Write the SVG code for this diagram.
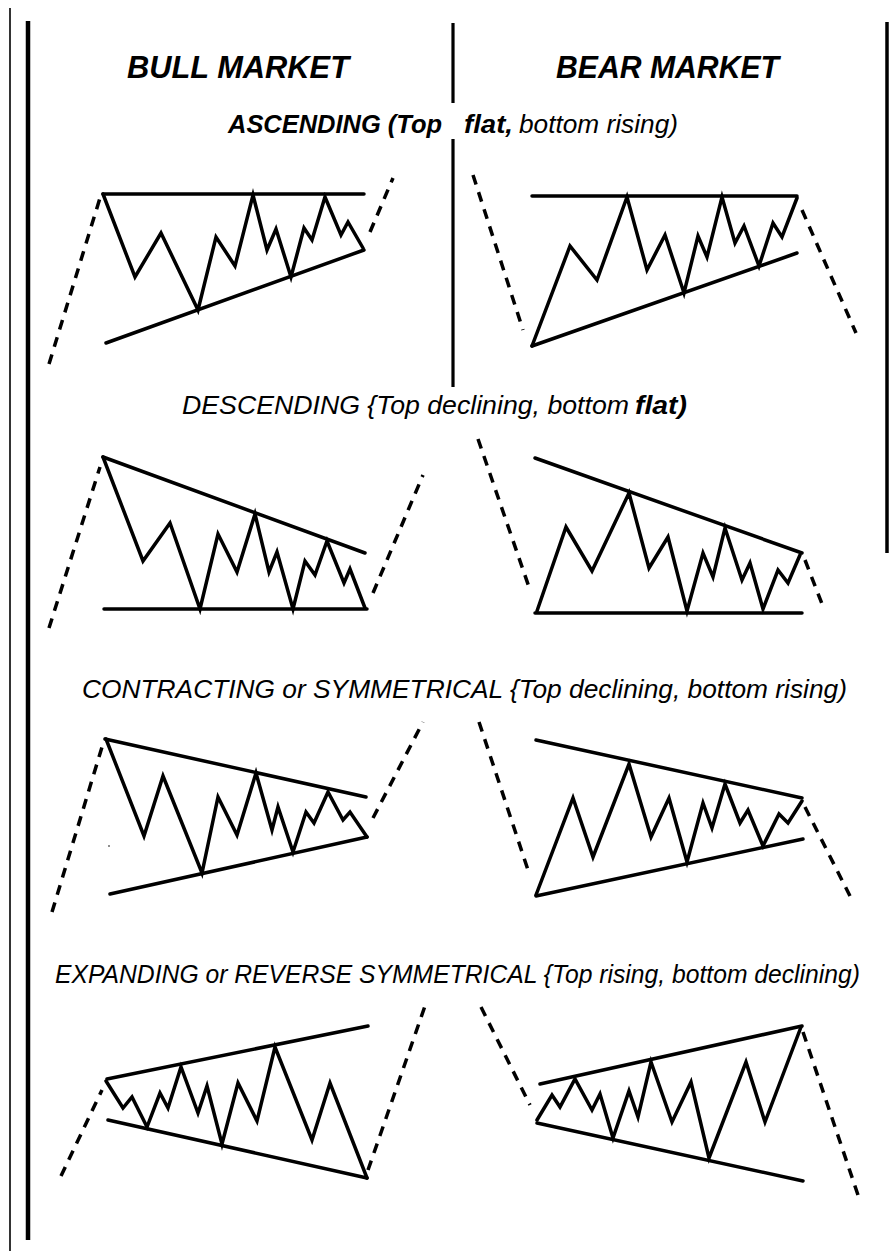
<svg xmlns="http://www.w3.org/2000/svg" width="895" height="1251" viewBox="0 0 895 1251">
<style>
.bg{fill:#fff}
.frame{stroke:#000;fill:none}
.s{stroke:#000;stroke-width:3.5;fill:none;stroke-linejoin:miter;stroke-miterlimit:6;stroke-linecap:round}
.d{stroke:#000;stroke-width:3.5;fill:none;stroke-dasharray:10 8}
.h{font-family:"Liberation Sans",Arial,sans-serif;font-weight:bold;font-style:italic;font-size:32px;fill:#000}
.t{font-family:"Liberation Sans",Arial,sans-serif;font-style:italic;font-size:25px;fill:#000}
.b{font-weight:bold}
</style>
<rect class="bg" x="0" y="0" width="895" height="1251"/>
<g id="frame">
<line class="frame" x1="10" y1="8" x2="10" y2="1251" stroke-width="1.6"/>
<line class="frame" x1="28" y1="21" x2="28" y2="1240" stroke-width="4.5"/>
<line class="frame" x1="453" y1="23" x2="453" y2="103" stroke-width="3.2"/>
<line class="frame" x1="453" y1="139" x2="453" y2="387" stroke-width="3.2"/>
<line class="frame" x1="887" y1="22" x2="887" y2="553" stroke-width="3.5"/>
</g>
<g id="headings">
<text class="h" x="127" y="78" textLength="222" lengthAdjust="spacingAndGlyphs">BULL MARKET</text>
<text class="h" x="556" y="78" textLength="223" lengthAdjust="spacingAndGlyphs">BEAR MARKET</text>
</g>
<g id="label-ascending">
<text class="t b" x="228" y="133" textLength="214" lengthAdjust="spacingAndGlyphs">ASCENDING (Top</text>
<text class="t b" x="464" y="133" textLength="49" lengthAdjust="spacingAndGlyphs">flat,</text>
<text class="t" x="519" y="133" textLength="159" lengthAdjust="spacingAndGlyphs">bottom rising)</text>
</g>
<g id="label-descending">
<text class="t" x="182" y="414" textLength="447" lengthAdjust="spacingAndGlyphs">DESCENDING {Top declining, bottom</text>
<text class="t b" x="635" y="414" textLength="52" lengthAdjust="spacingAndGlyphs">flat)</text>
</g>
<g id="label-contracting">
<text class="t" x="82" y="698" textLength="765" lengthAdjust="spacingAndGlyphs">CONTRACTING or SYMMETRICAL {Top declining, bottom rising)</text>
</g>
<g id="label-expanding">
<text class="t" x="55" y="983" textLength="805" lengthAdjust="spacingAndGlyphs">EXPANDING or REVERSE SYMMETRICAL {Top rising, bottom declining)</text>
</g>
<g id="bull-ascending">
<line class="s" x1="103" y1="194" x2="364" y2="194"/>
<line class="s" x1="106" y1="343" x2="364" y2="250"/>
<polyline class="s" points="103,194 135,277 161,233 198,310 216,237 235,266 253,195 267,250 276,229 291,277 304,228 312,240 325,197 341,235 348,222 363,248"/>
</g>
<g id="bear-ascending">
<line class="s" x1="532" y1="196" x2="797" y2="196"/>
<line class="s" x1="532" y1="346" x2="797" y2="253"/>
<polyline class="s" points="532,346 570,246 597,280 627,197 647,270 665,235 684,293 698,236 707,257 722,197 735,243 744,226 759,266 773,223 782,237 797,198"/>
</g>
<g id="bull-descending">
<line class="s" x1="103" y1="457" x2="365" y2="553"/>
<line class="s" x1="104" y1="609" x2="367" y2="609"/>
<polyline class="s" points="103,457 143,561 170,523 200,609 218,534 237,572 255,514 269,572 277,552 293,609 305,561 315,575 327,541 344,583 350,569 365,608"/>
</g>
<g id="bear-descending">
<line class="s" x1="535" y1="458" x2="802" y2="553"/>
<line class="s" x1="535" y1="613" x2="802" y2="613"/>
<polyline class="s" points="537,611 566,527 592,571 629,493 649,568 668,537 687,611 703,553 713,577 725,528 742,580 750,563 763,609 778,570 788,583 800,555"/>
</g>
<g id="bull-contracting">
<line class="s" x1="105" y1="739" x2="366" y2="797"/>
<line class="s" x1="110" y1="894" x2="367" y2="837"/>
<polyline class="s" points="106,739 144,836 163,776 202,873 218,797 237,835 256,773 272,830 278,807 293,852 306,812 314,823 328,792 343,820 350,812 367,837"/>
<circle cx="109" cy="846" r="0.8" fill="#000"/>
</g>
<g id="bear-contracting">
<line class="s" x1="536" y1="740" x2="802" y2="798"/>
<line class="s" x1="536" y1="896" x2="803" y2="839"/>
<polyline class="s" points="536,895 573,798 593,857 629,764 651,837 669,798 687,862 703,803 712,828 725,784 740,823 748,810 763,846 779,814 788,823 802,801"/>
</g>
<g id="bull-expanding">
<line class="s" x1="107" y1="1079" x2="368" y2="1026"/>
<line class="s" x1="108" y1="1120" x2="367" y2="1178"/>
<polyline class="s" points="106,1081 123,1108 132,1097 147,1127 160,1093 168,1108 181,1067 198,1113 207,1086 222,1144 238,1083 257,1121 275,1047 312,1140 330,1083 367,1178"/>
</g>
<g id="bear-expanding">
<line class="s" x1="540" y1="1084" x2="802" y2="1026"/>
<line class="s" x1="537" y1="1123" x2="803" y2="1181"/>
<polyline class="s" points="537,1120 552,1095 560,1107 575,1079 592,1110 600,1094 613,1138 629,1091 638,1117 651,1062 672,1122 691,1082 709,1158 746,1062 765,1122 801,1027"/>
</g>
<g id="connectors">
<line class="d" x1="49" y1="364" x2="100" y2="198"/>
<line class="d" x1="370" y1="232" x2="393" y2="178"/>
<line class="d" x1="473" y1="175" x2="523" y2="330"/>
<line class="d" x1="802" y1="210" x2="856" y2="333"/>
<line class="d" x1="49" y1="628" x2="100" y2="467"/>
<line class="d" x1="373" y1="593" x2="423" y2="475"/>
<line class="d" x1="478" y1="439" x2="530" y2="590"/>
<line class="d" x1="805" y1="560" x2="824" y2="609"/>
<line class="d" x1="52" y1="912" x2="102" y2="747"/>
<line class="d" x1="373" y1="818" x2="423" y2="722"/>
<line class="d" x1="479" y1="722" x2="529" y2="873"/>
<line class="d" x1="805" y1="807" x2="850" y2="896"/>
<line class="d" x1="61" y1="1176" x2="102" y2="1090"/>
<line class="d" x1="368" y1="1170" x2="425" y2="1006"/>
<line class="d" x1="481" y1="1007" x2="530" y2="1105"/>
<line class="d" x1="803" y1="1032" x2="859" y2="1198"/>
</g>
</svg>
